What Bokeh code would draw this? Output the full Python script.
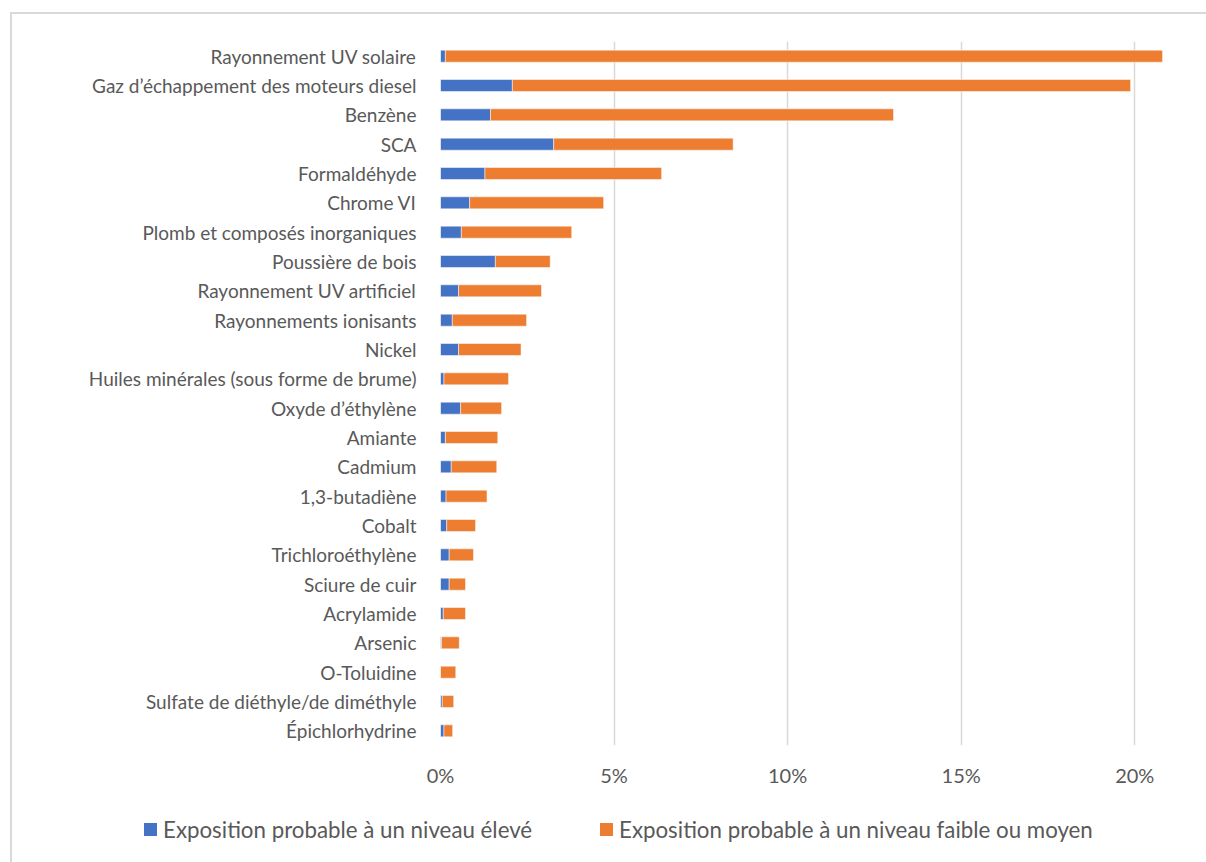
from bokeh.plotting import figure
from bokeh.layouts import column
from bokeh.models import (ColumnDataSource, FactorRange, Range1d, FixedTicker,
                          NumeralTickFormatter, Div)
from bokeh.embed import file_html
from bokeh.resources import INLINE

categories = [
    "Rayonnement UV solaire",
    "Gaz d’échappement des moteurs diesel",
    "Benzène",
    "SCA",
    "Formaldéhyde",
    "Chrome VI",
    "Plomb et composés inorganiques",
    "Poussière de bois",
    "Rayonnement UV artificiel",
    "Rayonnements ionisants",
    "Nickel",
    "Huiles minérales (sous forme de brume)",
    "Oxyde d’éthylène",
    "Amiante",
    "Cadmium",
    "1,3-butadiène",
    "Cobalt",
    "Trichloroéthylène",
    "Sciure de cuir",
    "Acrylamide",
    "Arsenic",
    "O-Toluidine",
    "Sulfate de diéthyle/de diméthyle",
    "Épichlorhydrine",
]
# percentages
high_pct = [0.14, 2.07, 1.44, 3.26, 1.28, 0.84, 0.60, 1.58, 0.52, 0.34, 0.52, 0.10,
            0.58, 0.14, 0.31, 0.16, 0.18, 0.25, 0.25, 0.08, 0.03, 0.00, 0.05, 0.10]
low_pct = [20.66, 17.81, 11.61, 5.17, 5.09, 3.86, 3.18, 1.58, 2.39, 2.14, 1.80, 1.86,
           1.18, 1.51, 1.31, 1.18, 0.83, 0.70, 0.47, 0.64, 0.51, 0.44, 0.33, 0.25]
tick_values = [0, 5, 10, 15, 20]
series_names = ["Exposition probable à un niveau élevé",
                "Exposition probable à un niveau faible ou moyen"]
colors = ["#4472C4", "#ED7D31"]

FONT = "Lato"
FSIZE = "19px"
TXT = "#595959"
W = 1194

src = ColumnDataSource(dict(
    cat=categories,
    high=[v / 100 for v in high_pct],
    low=[v / 100 for v in low_pct],
))

p = figure(
    width=W, height=786,
    y_range=FactorRange(factors=list(reversed(categories)), range_padding=0),
    x_range=Range1d(0, 0.21),
    output_backend="svg", toolbar_location=None,
    min_border_left=428, min_border_right=37, min_border_top=27, min_border_bottom=55,
)
p.outline_line_color = None
p.background_fill_color = "white"
p.border_fill_color = "white"

rs = p.hbar_stack(["high", "low"], y="cat", height=0.41, color=colors, source=src,
                  line_color="white", line_width=0.5)

p.xaxis.ticker = FixedTicker(ticks=[v / 100 for v in tick_values])
p.xaxis.formatter = NumeralTickFormatter(format="0%")
p.xaxis.axis_line_color = None
p.xaxis.major_tick_line_color = None
p.xaxis.minor_tick_line_color = None
p.xaxis.major_label_standoff = 11
p.yaxis.axis_line_color = None
p.yaxis.major_tick_line_color = None
p.yaxis.minor_tick_line_color = None
p.yaxis.major_label_standoff = 18
for ax in (p.xaxis, p.yaxis):
    ax.major_label_text_font = FONT
    ax.major_label_text_font_size = FSIZE
    ax.major_label_text_color = TXT
p.xaxis.major_label_text_font_size = "20px"

p.ygrid.grid_line_color = None
p.xgrid.grid_line_color = "#d9d9d9"
p.xgrid.grid_line_width = 1.5

# legend strip (HTML) under the chart
legend_left = [132, 588]
items = "".join(
    f'<div style="position:absolute;left:{x}px;top:16px;height:27px;display:flex;'
    f'align-items:center;white-space:nowrap;">'
    f'<span style="display:inline-block;width:13px;height:13px;background:{c};'
    f'margin-right:6px;"></span><span>{name}</span></div>'
    for x, c, name in zip(legend_left, colors, series_names)
)
html = (f'<div style="position:relative;width:{W}px;height:62px;font-family:{FONT};'
        f'font-size:22.3px;color:{TXT};background:white;">{items}</div>')
lg = Div(text=html, width=W, height=62, margin=0)

layout = column(p, lg, spacing=0, margin=(12, 0, 0, 10),
                styles={"border-left": "2px solid #d9d9d9", "border-top": "2px solid #d9d9d9",
                        "background": "white"})

open("out.html", "w").write(file_html(layout, INLINE))
